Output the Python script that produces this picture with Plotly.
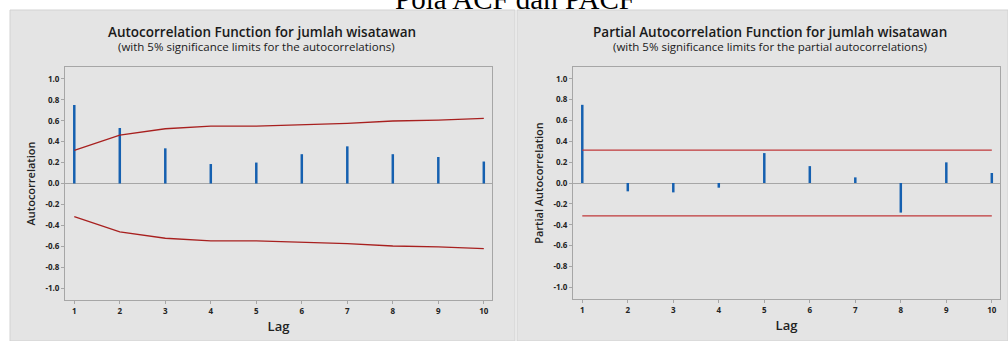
import plotly.graph_objects as go

lags = [1, 2, 3, 4, 5, 6, 7, 8, 9, 10]
acf_values = [0.75, 0.53, 0.336, 0.186, 0.20, 0.28, 0.355, 0.28, 0.253, 0.21]
acf_limit = [0.317, 0.463, 0.523, 0.549, 0.549, 0.559, 0.575, 0.597, 0.606, 0.623]
pacf_values = [0.75, -0.08, -0.09, -0.045, 0.287, 0.162, 0.054, -0.284, 0.198, 0.096]
pacf_limit = [0.315] * 10
ytick_vals = [1.0, 0.8, 0.6, 0.4, 0.2, 0.0, -0.2, -0.4, -0.6, -0.8, -1.0]
ytick_text = ["1.0", "0.8", "0.6", "0.4", "0.2", "0.0", "-0.2", "-0.4", "-0.6", "-0.8", "-1.0"]

W, H = 1008, 341
BAR = "#1560b0"
LIM = "#a8201f"
GRID = "#a6a6a6"
FONT = "Open Sans"


def stems(xs, ys):
    sx, sy = [], []
    for x, y in zip(xs, ys):
        sx += [x, x, None]
        sy += [0, y, None]
    return sx, sy


fig = go.Figure()

# ACF
sx, sy = stems(lags, acf_values)
fig.add_trace(go.Scatter(x=sx, y=sy, mode="lines", line=dict(color=BAR, width=2.5),
                         xaxis="x", yaxis="y", showlegend=False, hoverinfo="skip"))
fig.add_trace(go.Scatter(x=lags, y=acf_limit, mode="lines", line=dict(color=LIM, width=1.3),
                         xaxis="x", yaxis="y", showlegend=False))
fig.add_trace(go.Scatter(x=lags, y=[-v for v in acf_limit], mode="lines", line=dict(color=LIM, width=1.3),
                         xaxis="x", yaxis="y", showlegend=False))

# PACF
sx, sy = stems(lags, pacf_values)
fig.add_trace(go.Scatter(x=sx, y=sy, mode="lines", line=dict(color=BAR, width=2.5),
                         xaxis="x2", yaxis="y2", showlegend=False, hoverinfo="skip"))
fig.add_trace(go.Scatter(x=lags, y=pacf_limit, mode="lines", line=dict(color="#c0383a", width=1.3),
                         xaxis="x2", yaxis="y2", showlegend=False))
fig.add_trace(go.Scatter(x=lags, y=[-v for v in pacf_limit], mode="lines", line=dict(color="#c0383a", width=1.3),
                         xaxis="x2", yaxis="y2", showlegend=False))


def px_x(p):
    return p / W


def px_y(p):
    return 1 - p / H


xcommon = dict(range=[0.796, 10.18], tickvals=lags, ticks="outside", ticklen=3, tickcolor=GRID,
               showline=True, mirror=True, linecolor=GRID, linewidth=1, showgrid=False, zeroline=False,
               tickfont=dict(family=FONT, size=8, color="#222222", weight="bold"),
               title=dict(text="Lag", font=dict(family=FONT, size=13, color="#222222", weight=600), standoff=7))
ycommon = dict(range=[-1.113, 1.113], tickvals=ytick_vals, ticktext=ytick_text, ticks="outside", ticklen=3,
               tickcolor=GRID, showline=True, mirror=True, linecolor=GRID, linewidth=1, showgrid=False,
               zeroline=True, zerolinecolor=GRID, zerolinewidth=1,
               tickfont=dict(family=FONT, size=8, color="#222222", weight="bold"))

YT_FONT = dict(family=FONT, size=11, color="#222222", weight=600)

fig.update_layout(
    width=W, height=H, margin=dict(l=0, r=0, t=0, b=0),
    paper_bgcolor="white", plot_bgcolor="white",
    xaxis=dict(domain=[px_x(65), px_x(492)], anchor="y", **xcommon),
    yaxis=dict(domain=[px_y(300), px_y(67)], anchor="x",
               title=dict(text="Autocorrelation", font=YT_FONT, standoff=7), **ycommon),
    xaxis2=dict(domain=[px_x(573), px_x(1000)], anchor="y2", **xcommon),
    yaxis2=dict(domain=[px_y(299), px_y(67)], anchor="x2",
                title=dict(text="Partial Autocorrelation", font=YT_FONT, standoff=7), **ycommon),
    shapes=[
        dict(type="rect", xref="paper", yref="paper", x0=px_x(10), x1=px_x(515), y0=0, y1=px_y(10),
             fillcolor="#e4e4e4", line=dict(color="#d2d2d2", width=1), layer="below"),
        dict(type="rect", xref="paper", yref="paper", x0=px_x(517), x1=1.0, y0=0, y1=px_y(10),
             fillcolor="#e4e4e4", line=dict(color="#d2d2d2", width=1), layer="below"),
    ],
    annotations=[
        dict(text="Pola ACF dan PACF", xref="paper", yref="paper", x=px_x(515), y=px_y(-1.5), xanchor="center",
             yanchor="middle", showarrow=False, font=dict(family="Liberation Serif", size=29, color="black")),
        dict(text="Autocorrelation Function for jumlah wisatawan", xref="paper", yref="paper", x=px_x(262),
             y=px_y(32), xanchor="center", yanchor="middle", showarrow=False,
             font=dict(family=FONT, size=13.5, color="#1a1a1a", weight=600)),
        dict(text="(with 5% significance limits for the autocorrelations)", xref="paper", yref="paper",
             x=px_x(256), y=px_y(46), xanchor="center", yanchor="middle", showarrow=False,
             font=dict(family=FONT, size=11.5, color="#1a1a1a")),
        dict(text="Partial Autocorrelation Function for jumlah wisatawan", xref="paper", yref="paper", x=px_x(770),
             y=px_y(32), xanchor="center", yanchor="middle", showarrow=False,
             font=dict(family=FONT, size=13.5, color="#1a1a1a", weight=600)),
        dict(text="(with 5% significance limits for the partial autocorrelations)", xref="paper", yref="paper",
             x=px_x(770), y=px_y(46), xanchor="center", yanchor="middle", showarrow=False,
             font=dict(family=FONT, size=11.5, color="#1a1a1a")),
    ],
)

fig.write_html("out.html")
